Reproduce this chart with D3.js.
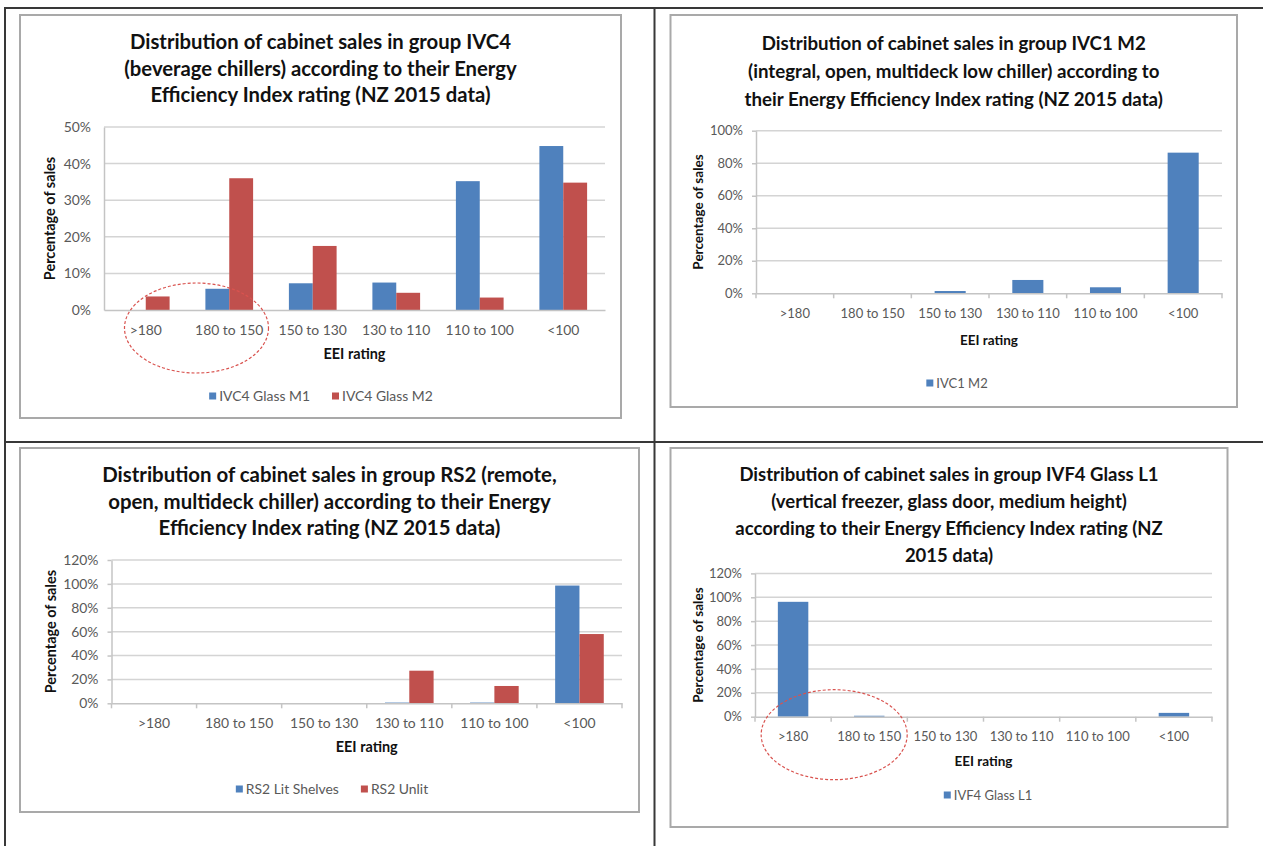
<!DOCTYPE html>
<meta charset="utf-8">
<style>
  body { margin: 0; background: #fff; }
  svg { display: block; font-family: Lato, "Open Sans", sans-serif; }
  .title { font-weight: bold; fill: #111; }
  .axis text { fill: #595959; font-family: Lato, sans-serif; }
  .axis-title { font-weight: bold; fill: #111; }
  .legend text { fill: #595959; }
</style>

<svg width="1263" height="846"></svg>

<script src="https://d3js.org/d3.v7.min.js"></script>
<script>

// ---- data ----
var categories = [">180", "180 to 150", "150 to 130", "130 to 110", "110 to 100", "<100"];

var ivc4GlassM1 = [0, 0.058, 0.073, 0.075, 0.352, 0.448];
var ivc4GlassM2 = [0.037, 0.360, 0.175, 0.047, 0.034, 0.348];
var ivc1M2 = [0, 0, 0.014, 0.082, 0.037, 0.865];
var rs2LitShelves = [0, 0, 0, 0.006, 0.006, 0.986];
var rs2Unlit = [0, 0, 0, 0.273, 0.145, 0.580];
var ivf4GlassL1 = [0.962, 0.008, 0, 0, 0, 0.032];

var ticksTo50 = [0, 0.1, 0.2, 0.3, 0.4, 0.5];
var ticksTo100 = [0, 0.2, 0.4, 0.6, 0.8, 1];
var ticksTo120 = [0, 0.2, 0.4, 0.6, 0.8, 1, 1.2];

var titleIVC4 = ["Distribution of cabinet sales in group IVC4",
                 "(beverage chillers) according to their Energy",
                 "Efficiency Index rating (NZ 2015 data)"];
var titleIVC1 = ["Distribution of cabinet sales in group IVC1 M2",
                 "(integral, open, multideck low chiller) according to",
                 "their Energy Efficiency  Index rating (NZ 2015 data)"];
var titleRS2 = ["Distribution of cabinet sales in group RS2 (remote,",
                "open, multideck chiller) according to their Energy",
                "Efficiency Index rating (NZ 2015 data)"];
var titleIVF4 = ["Distribution of cabinet sales in group IVF4 Glass L1",
                 "(vertical freezer, glass door, medium height)",
                 "according to their Energy Efficiency Index rating (NZ",
                 "2015 data)"];

var blue = "#4f81bd", red = "#c0504d";

// layout of each panel (pixels); fs = font scale of the pasted picture
var panels = [
  { box: [20, 15, 621, 418], plot: [104, 310, 605], ticks: ticksTo50, title: titleIVC4, titleY: 42, lineH: 26.5, titleSize: 20.3, fs: 1.07,
    series: [["IVC4 Glass M1", ivc4GlassM1, blue], ["IVC4 Glass M2", ivc4GlassM2, red]],
    tickMarks: false, yTitleX: 50, xTitleY: 354, legendY: 396, legendCx: 321, ring: { dx: 9, rx: 72 } },
  { box: [670.5, 15, 1237, 407], plot: [756, 293.3, 1222], ticks: ticksTo100, title: titleIVC1, titleY: 43, lineH: 28, titleSize: 18.7, fs: 1,
    series: [["IVC1 M2", ivc1M2, blue]],
    tickMarks: true, yTitleX: 698, xTitleY: 340, legendY: 383, legendCx: 957 },
  { box: [20, 448, 639, 812], plot: [111.5, 703.3, 622], ticks: ticksTo120, title: titleRS2, titleY: 475, lineH: 26.5, titleSize: 20.4, fs: 1.07,
    series: [["RS2 Lit Shelves", rs2LitShelves, blue], ["RS2 Unlit", rs2Unlit, red]],
    tickMarks: true, yTitleX: 50.5, xTitleY: 747, legendY: 789, legendCx: 332 },
  { box: [670.5, 448, 1227.5, 827], plot: [755, 716.7, 1212], ticks: ticksTo120, title: titleIVF4, titleY: 475, lineH: 27, titleSize: 18.5, fs: 1,
    series: [["IVF4 Glass L1", ivf4GlassL1, blue]],
    tickMarks: true, yTitleX: 698, xTitleY: 761.7, legendY: 795, legendCx: 988, ring: { dx: 3, rx: 73 } }
];

var svg = d3.select("svg");

// table lines of the document
var frame = svg.append("g").attr("stroke", "#383838").attr("stroke-width", 2);
frame.append("line").attr("x1", 4).attr("x2", 1263).attr("y1", 8).attr("y2", 8);
frame.append("line").attr("x1", 5).attr("x2", 5).attr("y1", 7).attr("y2", 846);
frame.append("line").attr("x1", 654.5).attr("x2", 654.5).attr("y1", 8).attr("y2", 846);
frame.append("line").attr("x1", 5).attr("x2", 1263).attr("y1", 442).attr("y2", 442);

panels.forEach(function(p) {
  var g = svg.append("g");
  var b = p.box;

  g.append("rect")
      .attr("x", b[0]).attr("y", b[1])
      .attr("width", b[2] - b[0]).attr("height", b[3] - b[1])
      .attr("fill", "#fff")
      .attr("stroke", "#a9a9a9")
      .attr("stroke-width", 2);

  var cx = (b[0] + b[2]) / 2;
  g.selectAll(".title")
    .data(p.title)
    .enter().append("text")
      .attr("class", "title")
      .attr("x", cx)
      .attr("y", function(d, i) { return p.titleY + i * p.lineH; })
      .attr("dy", "0.35em")
      .attr("text-anchor", "middle")
      .style("font-size", p.titleSize + "px")
      .text(function(d) { return d; });

  var left = p.plot[0], bottom = p.plot[1], right = p.plot[2];
  var yMax = p.ticks[p.ticks.length - 1];
  // pixel height of the value axis in each chart
  var heights = { 0.5: 183, 1: 162.6, 1.2: 143.3 };
  var top = bottom - heights[yMax];

  var x = d3.scaleBand().domain(categories).range([left, right]);
  var names = p.series.map(function(s) { return s[0]; });
  var x1 = d3.scaleBand().domain(names).range([0, x.bandwidth()]).paddingInner(0).paddingOuter(0.75);
  var y = d3.scaleLinear().domain([0, yMax]).range([bottom, top]);

  // gridlines
  g.append("g")
    .selectAll("line")
    .data(p.ticks.slice(1))
    .enter().append("line")
      .attr("x1", left).attr("x2", right)
      .attr("y1", function(d) { return y(d); })
      .attr("y2", function(d) { return y(d); })
      .attr("stroke", "#d4d4d4")
      .attr("stroke-width", 1.5);

  // bars
  p.series.forEach(function(s) {
    g.append("g")
      .selectAll("rect")
      .data(s[1])
      .enter().append("rect")
        .attr("x", function(d, i) { return x(categories[i]) + x1(s[0]); })
        .attr("width", x1.bandwidth())
        .attr("y", function(d) { return y(d); })
        .attr("height", function(d) { return y(0) - y(d); })
        .attr("fill", s[2]);
  });

  // y axis
  var yAxis = g.append("g")
      .attr("class", "axis")
      .style("font-size", (13 * p.fs) + "px")
      .attr("transform", "translate(" + left + ",0)")
      .call(d3.axisLeft(y)
        .tickValues(p.ticks)
        .tickFormat(d3.format(".0%"))
        .tickSizeInner(p.tickMarks ? 4 : 0)
        .tickSizeOuter(0)
        .tickPadding(p.tickMarks ? 9 : 13));
  yAxis.attr("font-size", null);
  yAxis.select(".domain").attr("stroke", "#c4c4c4").attr("stroke-width", 1.5);
  yAxis.selectAll(".tick line").attr("stroke", "#c4c4c4").attr("stroke-width", 1.5);
  yAxis.selectAll("text").style("font-size", (13 * p.fs) + "px");

  // x axis
  var xAxis = g.append("g")
      .attr("class", "axis")
      .attr("transform", "translate(0," + bottom + ")")
      .call(d3.axisBottom(x).tickSize(0).tickPadding(15));
  xAxis.select(".domain").attr("stroke", "#c4c4c4").attr("stroke-width", 1.5);
  xAxis.selectAll("text").style("font-size", (13 * p.fs) + "px");

  if (p.tickMarks) {
    var edges = categories.map(function(c) { return x(c); }).concat([right]);
    xAxis.selectAll(".edge")
      .data(edges)
      .enter().append("line")
        .attr("x1", function(d) { return d; }).attr("x2", function(d) { return d; })
        .attr("y1", 0).attr("y2", 5)
        .attr("stroke", "#c4c4c4")
        .attr("stroke-width", 1.5);
  }

  // axis titles
  g.append("text")
      .attr("class", "axis-title")
      .attr("transform", "translate(" + p.yTitleX + "," + (top + bottom) / 2 + ") rotate(-90)")
      .attr("dy", "0.35em")
      .attr("text-anchor", "middle")
      .style("font-size", (13.5 * p.fs) + "px")
      .text("Percentage of sales");

  g.append("text")
      .attr("class", "axis-title")
      .attr("x", (left + right) / 2)
      .attr("y", p.xTitleY)
      .attr("dy", "0.35em")
      .attr("text-anchor", "middle")
      .style("font-size", (13.5 * p.fs) + "px")
      .text("EEI rating");

  // legend
  var legend = g.append("g").attr("class", "legend");
  var pos = 0;
  p.series.forEach(function(s, i) {
    var item = legend.append("g").attr("transform", "translate(" + pos + ",0)");
    item.append("rect")
        .attr("x", 0).attr("y", -3.5)
        .attr("width", 7).attr("height", 7)
        .attr("fill", s[2]);
    var t = item.append("text")
        .attr("x", 10)
        .attr("dy", "0.35em")
        .style("font-size", (13 * p.fs) + "px")
        .text(s[0]);
    pos += 10 + t.node().getComputedTextLength() + 22;
  });
  var legendW = pos - 22;
  legend.attr("transform", "translate(" + (p.legendCx - legendW / 2) + "," + p.legendY + ")");

  // dashed ring around the high-EEI categories
  if (p.ring) {
    g.append("ellipse")
        .attr("cx", x(categories[1]) + p.ring.dx)
        .attr("cy", bottom + 18)
        .attr("rx", p.ring.rx)
        .attr("ry", 45)
        .attr("fill", "none")
        .attr("stroke", "#d9534f")
        .attr("stroke-width", 1.2)
        .attr("stroke-dasharray", "3,2");
  }
});

</script>
